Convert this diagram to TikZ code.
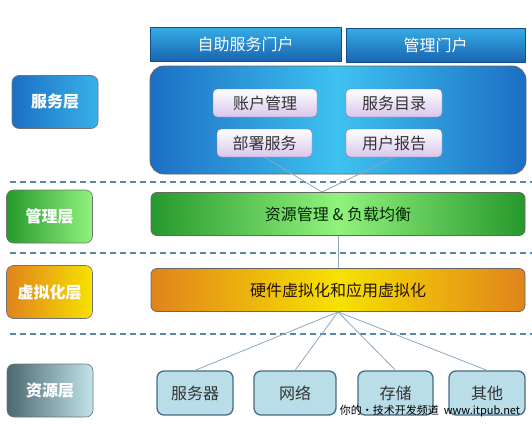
\documentclass[tikz,border=0pt]{standalone}
\usepackage{fontspec}
\setmainfont{Noto Sans CJK SC}
\usepackage{tikz}

\definecolor{bluedark}{HTML}{1C6FC4}
\definecolor{bluelight}{HTML}{3EC2F0}
\definecolor{greendark}{HTML}{26992C}
\definecolor{greenlight}{HTML}{92F27E}
\definecolor{orangedark}{HTML}{E0831C}
\definecolor{yellowlight}{HTML}{F7E200}
\definecolor{slatedark}{HTML}{4C6870}
\definecolor{slatelight}{HTML}{C0E4EA}
\definecolor{lavender}{HTML}{D8C6EC}
\definecolor{resfill}{HTML}{B9DEE8}
\definecolor{resedge}{HTML}{4A6A85}
\definecolor{sepline}{HTML}{5A88A8}
\definecolor{linkline}{HTML}{8AA8C0}

\begin{document}
\begin{tikzpicture}[x=1pt, y=-1pt,
    bigfont/.style={font=\fontsize{16}{18}\selectfont},
    layerbox/.style={draw=black!55, line width=0.6pt, rounded corners=7pt, inner sep=0pt,
        text=white, font=\fontsize{16}{18}\selectfont\bfseries,
        minimum width=86pt, minimum height=53pt},
    barbox/.style={draw=black!60, line width=0.8pt, rounded corners=6pt, inner sep=0pt,
        bigfont, minimum width=374pt, minimum height=43pt},
    portalbox/.style={draw=bluedark!70!black, line width=0.6pt, inner sep=0pt, text=white,
        bigfont, minimum height=34pt, top color=bluelight!75!bluedark, bottom color=bluedark!90!black},
    itembox/.style={draw=lavender!60!black, line width=0.4pt, rounded corners=4pt, inner sep=0pt,
        bigfont, text=black!80, minimum height=28pt, top color=white, bottom color=lavender},
    resbox/.style={draw=resedge, line width=1.3pt, rounded corners=7pt, inner sep=0pt,
        fill=resfill, bigfont, text=black!80, minimum height=44pt},
    sep/.style={sepline, line width=1.4pt, dash pattern=on 6pt off 4pt},
    link/.style={linkline, line width=0.8pt}]
    \useasboundingbox (0,0) rectangle (532,423);

    % ========== 服务层 ==========
    \node[layerbox, left color=bluedark, right color=bluelight!80!bluedark] (srvlayer) at (55,102) {服务层};
    \node[portalbox, minimum width=191pt] (selfportal) at (245.5,44) {自助服务门户};
    \node[portalbox, minimum width=179pt] (mgmtportal) at (435.5,45) {管理门户};
    \node[draw=black!60, line width=0.8pt, rounded corners=14pt, minimum width=376pt, minimum height=108pt,
        left color=bluedark, right color=bluedark, middle color=bluelight] (srvbox) at (338,120) {};
    \node[itembox, minimum width=104pt] (account) at (265,103) {账户管理};
    \node[itembox, minimum width=96pt] (catalog) at (394,103) {服务目录};
    \node[itembox, minimum width=95pt] (deploy) at (264.5,143) {部署服务};
    \node[itembox, minimum width=96pt] (report) at (394,143) {用户报告};

    \draw[sep] (10,182) -- (532,182);

    % ========== 管理层 ==========
    \node[layerbox, left color=greendark, right color=greenlight] (mgmtlayer) at (49.5,216.5) {管理层};
    \node[barbox, left color=greendark, right color=greendark, middle color=greenlight,
        text=black!85!green] (mgmtbar) at (338,214) {资源管理 \& 负载均衡};
    \coordinate (hub) at (322,192);
    \draw[link] (deploy.south) -- (hub);
    \draw[link] (report.south) -- (hub);

    \draw[sep] (10,253) -- (532,253);

    % ========== 虚拟化层 ==========
    \node[layerbox, left color=orangedark, right color=yellowlight] (virtlayer) at (49.5,292) {虚拟化层};
    \node[barbox, left color=orangedark, right color=orangedark, middle color=yellowlight,
        text=black!85!orange] (virtbar) at (338,290) {硬件虚拟化和应用虚拟化};
    \draw[link] (mgmtbar.south) -- (virtbar.north);

    \draw[sep] (10,334) -- (532,334);

    % ========== 资源层 ==========
    \node[layerbox, left color=slatedark, right color=slatelight] (reslayer) at (50,390.5) {资源层};
    \node[resbox, minimum width=76pt] (servers) at (195,393) {服务器};
    \node[resbox, minimum width=82pt] (network) at (295,393) {网络};
    \node[resbox, minimum width=75pt] (storage) at (395.5,393) {存储};
    \node[resbox, minimum width=76pt] (others) at (487,393) {其他};
    \foreach \r in {servers, network, storage, others}
        \draw[link] (virtbar.south) -- (\r.north);

    \node[font=\fontsize{11}{12}\selectfont, text=black, inner sep=0pt] (mark) at (430,411) {你的•技术开发频道\ \ www.itpub.net};
\end{tikzpicture}
\end{document}
